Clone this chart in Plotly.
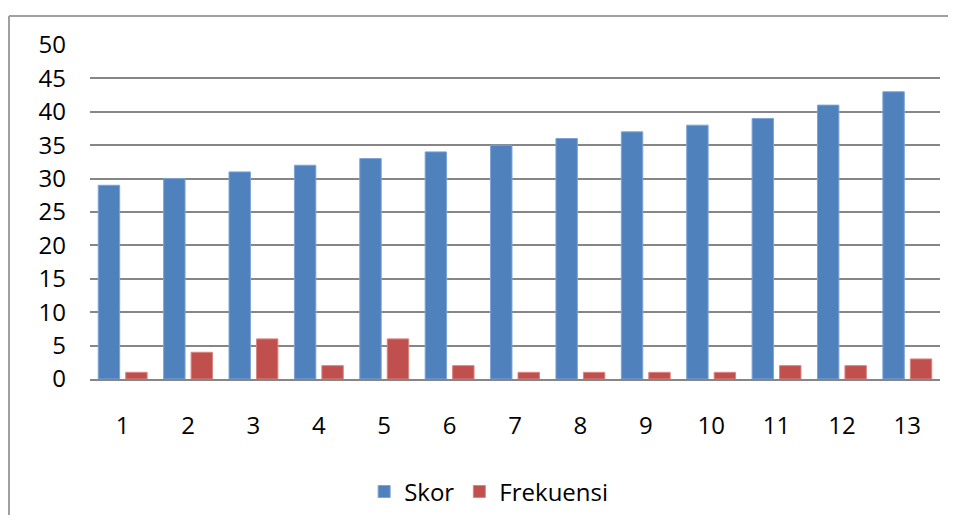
import plotly.graph_objects as go

categories = ["1", "2", "3", "4", "5", "6", "7", "8", "9", "10", "11", "12", "13"]
skor = [29, 30, 31, 32, 33, 34, 35, 36, 37, 38, 39, 41, 43]
frekuensi = [1, 4, 6, 2, 6, 2, 1, 1, 1, 1, 2, 2, 3]
y_ticks = [0, 5, 10, 15, 20, 25, 30, 35, 40, 45, 50]

FONT = "Open Sans"

fig = go.Figure()
fig.add_trace(go.Bar(x=categories, y=skor, name="Skor",
                     marker=dict(color="#4F81BD", line=dict(color="#7EA3D6", width=1))))
fig.add_trace(go.Bar(x=categories, y=frekuensi, name="Frekuensi",
                     marker=dict(color="#C0504D", line=dict(color="#D98583", width=1))))

fig.update_layout(
    width=940, height=507,
    margin=dict(l=82, r=8, t=37, b=136, autoexpand=False),
    paper_bgcolor="white", plot_bgcolor="white",
    barmode="group", bargap=0.16, bargroupgap=0.22,
    font=dict(family=FONT, size=24, color="#000000"),
    showlegend=True,
    legend=dict(orientation="h", x=0.469, xanchor="center", y=-0.338, yanchor="middle",
                font=dict(size=24), itemwidth=30, traceorder="normal"),
    xaxis=dict(type="category", showgrid=False, showline=True, linecolor="#868686",
               linewidth=1.5, ticks="", ticklabelstandoff=24, tickfont=dict(size=24)),
    yaxis=dict(range=[0, 50], tickvals=y_ticks, showgrid=True, gridcolor="#868686",
               gridwidth=1.5, zeroline=False, showline=False, ticks="",
               ticklabelstandoff=23, tickfont=dict(size=24)),
    shapes=[
        dict(type="line", xref="paper", yref="paper",
             x0=-0.0953, x1=-0.0953, y0=-0.6, y1=1.0866,
             line=dict(color="#A0A0A0", width=2), layer="below"),
        dict(type="line", xref="paper", yref="paper",
             x0=-0.0953, x1=1.1, y0=1.0866, y1=1.0866,
             line=dict(color="#A0A0A0", width=2), layer="below"),
    ],
)

fig.write_html("out.html")
